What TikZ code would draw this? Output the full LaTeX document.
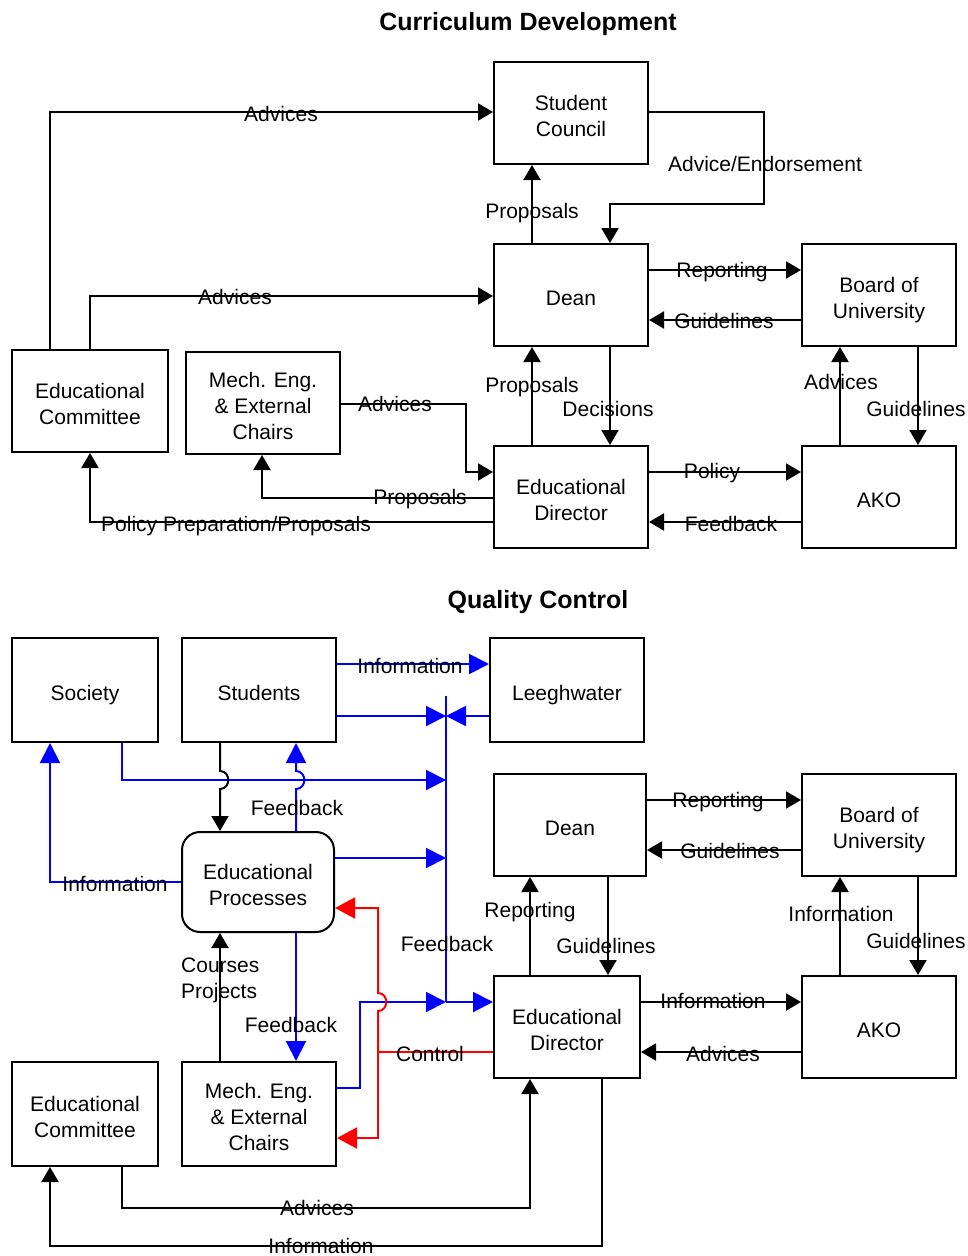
\documentclass[tikz,border=0pt]{standalone}
\usepackage{fontspec}
\setmainfont{Liberation Sans}
\usetikzlibrary{arrows.meta}
\newcommand{\fsz}{\fontsize{21}{26}\selectfont}
\newcommand{\bx}[1]{\rule{0pt}{26pt}#1\rule[-5pt]{0pt}{5pt}}
\begin{document}
\begin{tikzpicture}[x=1pt,y=-1pt,
  box/.style={draw, line width=2pt, minimum width=154pt, minimum height=102pt, align=center, font=\fsz, inner sep=2pt},
  lbl/.style={font=\fsz, inner sep=0pt, text height=15pt, text depth=0pt},
  ttl/.style={font=\bfseries\fontsize{25}{30}\selectfont, inner sep=0pt, text height=18pt, text depth=0pt},
  arr/.style={draw=black, line width=2pt, -{Triangle[length=15pt,width=17pt]}},
  barr/.style={draw=blue, line width=2pt, -{Triangle[length=20pt,width=20pt]}},
  bline/.style={draw=blue, line width=2pt},
  rarr/.style={draw=red, line width=2pt, -{Triangle[length=20pt,width=21pt]}},
  rline/.style={draw=red, line width=2pt}]
\useasboundingbox (0,0) rectangle (968,1256);
\fill[white] (0,0) rectangle (968,1256);

% ---------------- Curriculum Development ----------------
\node[ttl] (t1) at (528,21) {Curriculum Development};
\node[box] (sc) at (571,113) {\bx{Student\\Council}};
\node[box] (dean1) at (571,295) {\bx{Dean}};
\node[box] (bou1) at (879,295) {\bx{Board of\\University}};
\node[box] (ed1) at (571,497) {\bx{Educational\\Director}};
\node[box] (ako1) at (879,497) {\bx{AKO}};
\node[box, minimum width=156pt] (ec1) at (90,401) {\bx{Educational\\Committee}};
\node[box] (me1) at (263,403) {\bx{Mech. Eng.\\\& External\\Chairs}};

\draw[arr] (ec1.north -| 50,0) |- (sc.west |- 0,112);
\draw[arr] (ec1.north -| 90,0) |- (dean1.west |- 0,296);
\draw[arr] (dean1.north -| 532,0) -- (sc.south -| 532,0);
\draw[arr] (sc.east |- 0,112) -| (764,204) -| (dean1.north -| 610,0);
\draw[arr] (dean1.east |- 0,270) -- (bou1.west |- 0,270);
\draw[arr] (bou1.west |- 0,320) -- (dean1.east |- 0,320);
\draw[arr] (ed1.north -| 532,0) -- (dean1.south -| 532,0);
\draw[arr] (dean1.south -| 610,0) -- (ed1.north -| 610,0);
\draw[arr] (ako1.north -| 840,0) -- (bou1.south -| 840,0);
\draw[arr] (bou1.south -| 918,0) -- (ako1.north -| 918,0);
\draw[arr] (ed1.east |- 0,472) -- (ako1.west |- 0,472);
\draw[arr] (ako1.west |- 0,522) -- (ed1.east |- 0,522);
\draw[arr] (me1.east |- 0,404) -| (466,472) -- (ed1.west |- 0,472);
\draw[arr] (ed1.west |- 0,498) -| (me1.south -| 262,0);
\draw[arr] (ed1.west |- 0,522) -| (ec1.south -| 90,0);

\node[lbl] (l1) at (281,114) {Advices};
\node[lbl] (l2) at (235,297) {Advices};
\node[lbl] (l3) at (532,211) {Proposals};
\node[lbl] (l4) at (765,164) {Advice/Endorsement};
\node[lbl] (l5) at (722,270) {Reporting};
\node[lbl] (l6) at (724,321) {Guidelines};
\node[lbl] (l7) at (532,385) {Proposals};
\node[lbl] (l8) at (608,409) {Decisions};
\node[lbl] (l9) at (841,382) {Advices};
\node[lbl] (l10) at (916,409) {Guidelines};
\node[lbl] (l11) at (712,471) {Policy};
\node[lbl] (l12) at (731,524) {Feedback};
\node[lbl] (l13) at (395,404) {Advices};
\node[lbl] (l14) at (420,497) {Proposals};
\node[lbl] (l15) at (236,524) {Policy Preparation/Proposals};

% ---------------- Quality Control ----------------
\node[ttl] (t2) at (538,599) {Quality Control};
\node[box, minimum width=146pt, minimum height=104pt] (soc) at (85,690) {\bx{Society}};
\node[box, minimum height=104pt] (stu) at (259,690) {\bx{Students}};
\node[box, minimum height=104pt] (lee) at (567,690) {\bx{Leeghwater}};
\node[box, minimum width=152pt] (dean2) at (570,825) {\bx{Dean}};
\node[box] (bou2) at (879,825) {\bx{Board of\\University}};
\node[box, minimum width=152pt, minimum height=100pt, rounded corners=18pt] (ep) at (258,882) {\bx{Educational\\Processes}};
\node[box, minimum width=146pt] (ed2) at (567,1027) {\bx{Educational\\Director}};
\node[box] (ako2) at (879,1027) {\bx{AKO}};
\node[box, minimum width=146pt, minimum height=104pt] (ec2) at (85,1114) {\bx{Educational\\Committee}};
\node[box, minimum height=104pt] (me2) at (259,1114) {\bx{Mech. Eng.\\\& External\\Chairs}};

\coordinate (bustop) at (446,696);
\coordinate (busbot) at (446,1002);
\draw[bline] (bustop) -- (busbot);
\draw[barr] (stu.east |- 0,664) -- (lee.west |- 0,664);
\draw[barr] (stu.east |- 0,716) -- (bustop |- 0,716);
\draw[barr] (lee.west |- 0,716) -- (bustop |- 0,716);
\draw[barr] (soc.south -| 122,0) |- (bustop |- 0,780);
\draw[arr] (stu.south -| 220,0) -- (220,771) .. controls (231,771) and (231,789) .. (220,789) -- (ep.north -| 220,0);
\draw[barr] (ep.north -| 296,0) -- (296,789) .. controls (307,789) and (307,771) .. (296,771) -- (stu.south -| 296,0);
\draw[barr] (ep.west |- 0,882) -| (soc.south -| 50,0);
\draw[barr] (ep.east |- 0,858) -- (bustop |- 0,858);
\draw[barr] (ep.south -| 296,0) -- (me2.north -| 296,0);
\draw[arr] (me2.north -| 220,0) -- (ep.south -| 220,0);
\draw[barr] (me2.east |- 0,1088) -| (360,1002) -- (busbot);
\draw[barr] (busbot) -- (ed2.west |- 0,1002);
\coordinate (rj) at (378,1052);
\draw[rline] (ed2.west |- 0,1052) -- (rj);
\draw[rarr] (rj) -- (378,1011) .. controls (389,1011) and (389,993) .. (378,993) |- (ep.east |- 0,908);
\draw[rarr] (rj) |- (me2.east |- 0,1138);
\draw[arr] (ed2.north -| 530,0) -- (dean2.south -| 530,0);
\draw[arr] (dean2.south -| 608,0) -- (ed2.north -| 608,0);
\draw[arr] (dean2.east |- 0,800) -- (bou2.west |- 0,800);
\draw[arr] (bou2.west |- 0,850) -- (dean2.east |- 0,850);
\draw[arr] (ako2.north -| 840,0) -- (bou2.south -| 840,0);
\draw[arr] (bou2.south -| 918,0) -- (ako2.north -| 918,0);
\draw[arr] (ed2.east |- 0,1002) -- (ako2.west |- 0,1002);
\draw[arr] (ako2.west |- 0,1052) -- (ed2.east |- 0,1052);
\draw[arr] (ec2.south -| 122,0) |- (530,1208) -- (ed2.south -| 530,0);
\draw[arr] (ed2.south -| 602,0) |- (50,1246) -- (ec2.south -| 50,0);

\node[lbl] (m1) at (410,666) {Information};
\node[lbl] (m2) at (297,808) {Feedback};
\node[lbl] (m3) at (115,884) {Information};
\node[lbl] (m4) at (447,944) {Feedback};
\node[lbl] (m5) at (291,1025) {Feedback};
\node[font=\fsz, inner sep=0pt, align=left, anchor=west] (m6) at (181,980) {Courses\\Projects};
\node[lbl] (m7) at (430,1054) {Control};
\node[lbl] (m8) at (530,910) {Reporting};
\node[lbl] (m9) at (606,946) {Guidelines};
\node[lbl] (m10) at (718,800) {Reporting};
\node[lbl] (m11) at (730,851) {Guidelines};
\node[lbl] (m12) at (841,914) {Information};
\node[lbl] (m13) at (916,941) {Guidelines};
\node[lbl] (m14) at (713,1001) {Information};
\node[lbl] (m15) at (723,1054) {Advices};
\node[lbl] (m16) at (317,1208) {Advices};
\node[lbl] (m17) at (321,1246) {Information};
\end{tikzpicture}
\end{document}
